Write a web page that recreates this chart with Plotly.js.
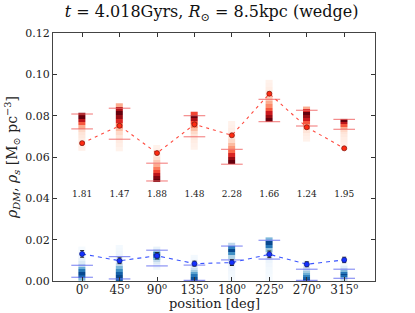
<!DOCTYPE html>
<html><head><meta charset="utf-8">
<script src="https://cdn.plot.ly/plotly-3.0.1.min.js"></script>
<style>body{margin:0;padding:0;background:#fff}#plot{width:415px;height:313px}</style>
</head><body><div id="plot"></div>
<script>
// ---- data ----
var positions = [0, 45, 90, 135, 180, 225, 270, 315];
var tickLabels = ["0<sup>o</sup>","45<sup>o</sup>","90<sup>o</sup>","135<sup>o</sup>","180<sup>o</sup>","225<sup>o</sup>","270<sup>o</sup>","315<sup>o</sup>"];
var rhoDM = [0.0667, 0.0751, 0.0619, 0.0758, 0.0705, 0.0906, 0.0744, 0.0642];
var rhoDMerr = [0.0007, 0.0007, 0.0006, 0.0007, 0.0006, 0.0008, 0.0006, 0.0005];
var rhoS = [0.0131, 0.0098, 0.0122, 0.0084, 0.0089, 0.0129, 0.0081, 0.0102];
var rhoSerr = [0.0016, 0.0014, 0.0015, 0.0012, 0.0014, 0.0016, 0.0012, 0.0013];
var ratios = ["1.81","1.47","1.88","1.48","2.28","1.66","1.24","1.95"];
// red (DM) distribution strips: lower/upper edge, densities bottom->top
var dmLo = [0.0630, 0.0626, 0.0480, 0.0634, 0.0566, 0.0771, 0.0674, 0.0634];
var dmHi = [0.0814, 0.0860, 0.0658, 0.0819, 0.0774, 0.0973, 0.0844, 0.0784];
var dmDens = [
  [0.03,0.04,0.05,0.06,0.08,0.10,0.15,0.30,0.55,0.80,1.00,0.95],
  [0.02,0.04,0.06,0.10,0.15,0.25,0.45,0.70,0.90,1.00,0.85,0.30],
  [1.00,0.95,0.80,0.60,0.45,0.30,0.20,0.12,0.08,0.05,0.03,0.02],
  [0.02,0.03,0.05,0.07,0.10,0.15,0.25,0.40,0.60,0.85,1.00,0.60],
  [1.00,0.90,0.70,0.50,0.35,0.25,0.15,0.10,0.07,0.05,0.03,0.02],
  [1.00,0.90,0.75,0.55,0.40,0.30,0.20,0.12,0.08,0.05,0.03,0.02],
  [0.02,0.03,0.05,0.10,0.20,0.35,0.55,0.75,0.90,1.00,0.70,0.30],
  [0.02,0.02,0.03,0.04,0.05,0.07,0.10,0.15,0.30,0.55,0.80,1.00]
];
var dmLineHi = [0.0808, 0.0836, 0.0570, 0.0800, 0.0637, 0.0879, 0.0826, 0.0782];
var dmLineLo = [0.0736, 0.0686, 0.0484, 0.0698, 0.0565, 0.0771, 0.0750, 0.0734];
// blue (stellar) distribution strips
var sLo = [0.0, 0.0, 0.0055, 0.0, 0.0, 0.0, 0.0, 0.0];
var sHi = [0.0166, 0.0174, 0.0166, 0.0126, 0.0185, 0.0211, 0.0100, 0.0088];
var sDens = [
  [0.50,0.90,1.00,0.80,0.55,0.30,0.15,0.08,0.05,0.03,0.02,0.01],
  [0.90,1.00,0.90,0.70,0.50,0.30,0.18,0.10,0.06,0.04,0.03,0.02],
  [0.03,0.05,0.08,0.15,0.30,0.55,0.85,1.00,0.80,0.45,0.20,0.08],
  [1.00,0.95,0.80,0.60,0.40,0.25,0.15,0.10,0.06,0.04,0.03,0.02],
  [0.02,0.02,0.03,0.04,0.05,0.08,0.15,0.35,0.70,1.00,0.75,0.30],
  [0.01,0.01,0.02,0.03,0.04,0.06,0.10,0.20,0.45,0.80,1.00,0.50],
  [1.00,0.90,0.75,0.55,0.40,0.28,0.18,0.10,0.06,0.03],
  [0.30,0.55,0.85,1.00,0.80,0.50,0.25,0.12,0.05,0.02]
];
var sLineHi = [0.0076, 0.0118, 0.0149, 0.0077, 0.0169, 0.0197, 0.0057, 0.0057];
var sLineLo = [0.0018, 0.0010, 0.0073, 0.0003, 0.0102, 0.0106, 0.0003, 0.0013];

// ---- styles ----
var reds = [[0,'#fff5f0'],[0.125,'#fee0d2'],[0.25,'#fcbba1'],[0.375,'#fc9272'],[0.5,'#fb6a4a'],[0.625,'#ef3b2c'],[0.75,'#cb181d'],[0.875,'#a50f15'],[1,'#67000d']];
var blues = [[0,'#f7fbff'],[0.125,'#deebf7'],[0.25,'#c6dbef'],[0.375,'#9ecae1'],[0.5,'#6baed6'],[0.625,'#4292c6'],[0.75,'#2171b5'],[0.875,'#08519c'],[1,'#08306b']];
var stripW = 9;
var segHalf = 13;
var FONT = 'DejaVu Serif';

var traces = [];
function addStrips(lo, hi, dens, cs, zmax) {
  for (var i = 0; i < positions.length; i++) {
    var n = dens[i].length;
    var dy = (hi[i] - lo[i]) / n;
    traces.push({
      type: 'heatmap',
      z: dens[i].map(function (d) { return [d]; }),
      x0: positions[i], dx: stripW,
      y0: lo[i] + dy / 2, dy: dy,
      colorscale: cs, zmin: 0, zmax: zmax,
      showscale: false, hoverinfo: 'skip'
    });
  }
}
addStrips(dmLo, dmHi, dmDens, reds, 1.0);
addStrips(sLo, sHi, sDens, blues, 1.1);

function segTrace(vals, color) {
  var xs = [], ys = [];
  for (var i = 0; i < positions.length; i++) {
    xs.push(positions[i] - segHalf, positions[i] + segHalf, null);
    ys.push(vals[i], vals[i], null);
  }
  return { type: 'scatter', mode: 'lines', x: xs, y: ys,
    line: { color: color, width: 1.2 }, hoverinfo: 'skip', showlegend: false };
}
traces.push(segTrace(dmLineHi, 'rgba(240,100,100,0.75)'));
traces.push(segTrace(dmLineLo, 'rgba(240,100,100,0.75)'));
traces.push(segTrace(sLineHi, 'rgba(100,110,240,0.75)'));
traces.push(segTrace(sLineLo, 'rgba(100,110,240,0.75)'));

traces.push({
  type: 'scatter', mode: 'lines+markers', x: positions, y: rhoDM,
  line: { color: '#ff4a3f', width: 1.1, dash: '3px,4px' },
  marker: { color: '#ff2a10', size: 5, line: { color: '#8b1a10', width: 0.8 } },
  error_y: { type: 'data', array: rhoDMerr, color: '#444', thickness: 1, width: 2 },
  showlegend: false, hoverinfo: 'skip'
});
traces.push({
  type: 'scatter', mode: 'lines+markers', x: positions, y: rhoS,
  line: { color: '#3b55ff', width: 1.1, dash: '4px,4px' },
  marker: { color: '#1430ff', size: 5, line: { color: '#10208b', width: 0.8 } },
  error_y: { type: 'data', array: rhoSerr, color: '#222', thickness: 1, width: 2 },
  showlegend: false, hoverinfo: 'skip'
});
traces.push({
  type: 'scatter', mode: 'text', x: positions,
  y: positions.map(function () { return 0.0415; }),
  text: ratios, textfont: { family: FONT, size: 9, color: '#222' },
  showlegend: false, hoverinfo: 'skip'
});

var layout = {
  width: 415, height: 313,
  margin: { l: 53, r: 40, t: 33, b: 32 },
  paper_bgcolor: '#fff', plot_bgcolor: '#fff',
  showlegend: false,
  font: { family: FONT, color: '#222' },
  title: { text: '<i>t</i> = 4.018Gyrs, <i>R</i><sub>⊙</sub> = 8.5kpc (wedge)',
    font: { family: FONT, size: 16, color: '#111' }, x: 0.51, xanchor: 'center', y: 0.962, yanchor: 'middle' },
  xaxis: {
    range: [-35, 352], tickvals: positions, ticktext: tickLabels,
    ticks: 'inside', ticklen: 4, tickcolor: '#333', mirror: 'ticks',
    showline: true, linecolor: '#444', linewidth: 1,
    showgrid: false, zeroline: false, ticklabelstandoff: -2,
    tickfont: { family: FONT, size: 12, color: '#222' }
  },
  yaxis: {
    range: [0, 0.12], dtick: 0.02, tick0: 0, tickformat: '.2f',
    ticks: 'inside', ticklen: 4, tickcolor: '#333', mirror: 'ticks',
    showline: true, linecolor: '#444', linewidth: 1,
    showgrid: false, zeroline: false,
    tickfont: { family: FONT, size: 11, color: '#222' },
    title: { text: '<i>ρ</i><sub><i>DM</i></sub>, <i>ρ</i><sub><i>s</i></sub> [M<sub>⊙</sub> pc<sup>−3</sup>]',
      font: { family: FONT, size: 14, color: '#222' }, standoff: 4 }
  },
  annotations: [{
    text: 'position [deg]', xref: 'paper', yref: 'paper', x: 0.5, y: -0.129,
    xanchor: 'center', yanchor: 'bottom', showarrow: false,
    font: { family: FONT, size: 13, color: '#222' }
  }]
};
Plotly.newPlot('plot', traces, layout, { staticPlot: true, displayModeBar: false });
</script>
</body></html>
